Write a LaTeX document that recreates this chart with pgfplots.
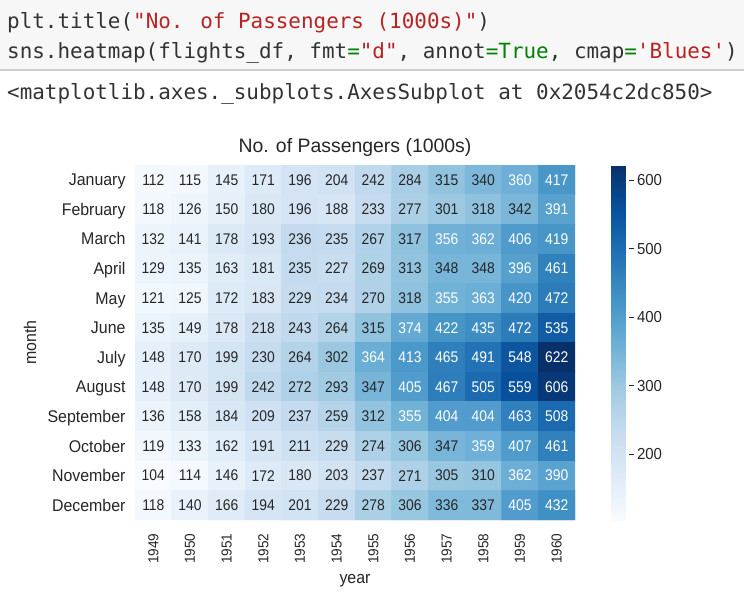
\documentclass[border=0pt]{standalone}
\usepackage{pgfplots}
\pgfplotsset{compat=1.18}
\usepackage{pgfplotstable}
\usepackage{fontspec}
\setmainfont{Liberation Sans}
\newfontfamily\codefont{DejaVu Sans Mono}
\newfontfamily\annfont{Liberation Sans}[FakeStretch=0.9]
\newfontfamily\labfont{Liberation Sans}[FakeStretch=0.94]

\definecolor{txt}{gray}{0.15}
\definecolor{codetxt}{HTML}{333333}
\definecolor{codestr}{HTML}{BA2121}
\definecolor{codekw}{HTML}{008000}
\definecolor{cellbg}{HTML}{F7F7F7}
\definecolor{cellrule}{HTML}{CFCFCF}

\pgfplotsset{
  colormap={blues}{
    rgb255=(247,251,255) rgb255=(222,235,247) rgb255=(198,219,239)
    rgb255=(158,202,225) rgb255=(107,174,214) rgb255=(66,146,198)
    rgb255=(33,113,181)  rgb255=(8,81,156)    rgb255=(8,48,107)}
}

% monthly passengers (thousands): x = year index (1949..1960), y = month index
\pgfplotstableread{
x y v
0 0 112
1 0 115
2 0 145
3 0 171
4 0 196
5 0 204
6 0 242
7 0 284
8 0 315
9 0 340
10 0 360
11 0 417
0 1 118
1 1 126
2 1 150
3 1 180
4 1 196
5 1 188
6 1 233
7 1 277
8 1 301
9 1 318
10 1 342
11 1 391
0 2 132
1 2 141
2 2 178
3 2 193
4 2 236
5 2 235
6 2 267
7 2 317
8 2 356
9 2 362
10 2 406
11 2 419
0 3 129
1 3 135
2 3 163
3 3 181
4 3 235
5 3 227
6 3 269
7 3 313
8 3 348
9 3 348
10 3 396
11 3 461
0 4 121
1 4 125
2 4 172
3 4 183
4 4 229
5 4 234
6 4 270
7 4 318
8 4 355
9 4 363
10 4 420
11 4 472
0 5 135
1 5 149
2 5 178
3 5 218
4 5 243
5 5 264
6 5 315
7 5 374
8 5 422
9 5 435
10 5 472
11 5 535
0 6 148
1 6 170
2 6 199
3 6 230
4 6 264
5 6 302
6 6 364
7 6 413
8 6 465
9 6 491
10 6 548
11 6 622
0 7 148
1 7 170
2 7 199
3 7 242
4 7 272
5 7 293
6 7 347
7 7 405
8 7 467
9 7 505
10 7 559
11 7 606
0 8 136
1 8 158
2 8 184
3 8 209
4 8 237
5 8 259
6 8 312
7 8 355
8 8 404
9 8 404
10 8 463
11 8 508
0 9 119
1 9 133
2 9 162
3 9 191
4 9 211
5 9 229
6 9 274
7 9 306
8 9 347
9 9 359
10 9 407
11 9 461
0 10 104
1 10 114
2 10 146
3 10 172
4 10 180
5 10 203
6 10 237
7 10 271
8 10 305
9 10 310
10 10 362
11 10 390
0 11 118
1 11 140
2 11 166
3 11 194
4 11 201
5 11 229
6 11 278
7 11 306
8 11 336
9 11 337
10 11 405
11 11 432
}\flights

\begin{document}
\begin{tikzpicture}
\useasboundingbox (0,0) rectangle (744bp,-592bp);

% notebook cell: code and its output line
\fill[cellbg] (0,0) rectangle (744bp,-70bp);
\draw[cellrule, line width=1.2bp] (0,-70bp) -- (744bp,-70bp);
\begin{scope}[every node/.style={anchor=base west, inner sep=0pt, text=codetxt,
    font=\codefont\fontsize{21}{24}\selectfont}]
\node at (7bp,-28bp) {plt.title(\textcolor{codestr}{\textquotedbl No. of Passengers (1000s)\textquotedbl})};
\node at (7bp,-58bp) {sns.heatmap(flights\_df, fmt\textcolor{codekw}{=}\textcolor{codestr}{\textquotedbl d\textquotedbl}, annot\textcolor{codekw}{=True}, cmap\textcolor{codekw}{=}\textcolor{codestr}{\textquotesingle Blues\textquotesingle})};
\node at (7bp,-99bp) {<matplotlib.axes.\_subplots.AxesSubplot at 0x2054c2dc850>};
\end{scope}

\begin{axis}[
  at={(135bp,-520bp)}, anchor=south west,
  scale only axis, width=440bp, height=355bp,
  xmin=-0.5, xmax=11.5, ymin=-0.5, ymax=11.5, y dir=reverse,
  axis line style={draw=none}, major tick length=0pt,
  xtick={0,...,11},
  xticklabels={1949,1950,1951,1952,1953,1954,1955,1956,1957,1958,1959,1960},
  ytick={0,...,11},
  yticklabels={January,February,March,April,May,June,July,August,September,October,November,December},
  xticklabel style={rotate=90, anchor=east, text=txt,
    font=\labfont\fontsize{14.5}{16}\selectfont},
  xticklabel shift=10bp,
  yticklabel style={anchor=base east, yshift=-6bp, text=txt,
    font=\labfont\fontsize{17}{20}\selectfont},
  yticklabel shift=6bp,
  title={No. of Passengers (1000s)},
  title style={at={(axis description cs:0.5,1.018)}, anchor=base, text=txt,
    font=\fontsize{19.5}{22}\selectfont},
  xlabel={year},
  xlabel style={at={(axis description cs:0.5,-0.18)}, anchor=base, text=txt,
    font=\labfont\fontsize{17}{20}\selectfont},
  ylabel={month},
  ylabel style={at={(axis description cs:-0.2386,0.5)}, anchor=center, text=txt,
    font=\labfont\fontsize{17}{20}\selectfont},
  colormap name=blues,
  point meta min=104, point meta max=622,
  colorbar,
  colorbar style={
    at={(parent axis.north east)}, anchor=north west, xshift=28bp,
    scale only axis, width=17bp, height=355bp, y dir=normal,
    axis line style={draw=none},
    xtick=\empty,
    ytick={200,300,400,500,600}, minor tick num=0,
    major tick length=5bp, tick align=outside,
    ytick pos=right, yticklabel pos=right,
    tick style={draw=txt, line width=0.9bp},
    /pgf/number format/assume math mode=true,
    yticklabel style={text=txt, font=\labfont\fontsize{16}{18}\selectfont},
  },
]
\addplot[matrix plot*, mesh/cols=12, point meta=explicit]
  table[x=x, y=y, meta=v] {\flights};
% cell annotations: light text on the darker cells
\addplot[draw=none, mark=none, point meta=explicit symbolic,
  nodes near coords={\ifnum\pgfplotspointmeta>350 \color{white}\fi\pgfplotspointmeta},
  every node near coord/.append style={anchor=center, text=txt,
    font=\annfont\fontsize{15.5}{18}\selectfont}]
  table[x=x, y=y, meta=v] {\flights};
\end{axis}
\end{tikzpicture}
\end{document}
